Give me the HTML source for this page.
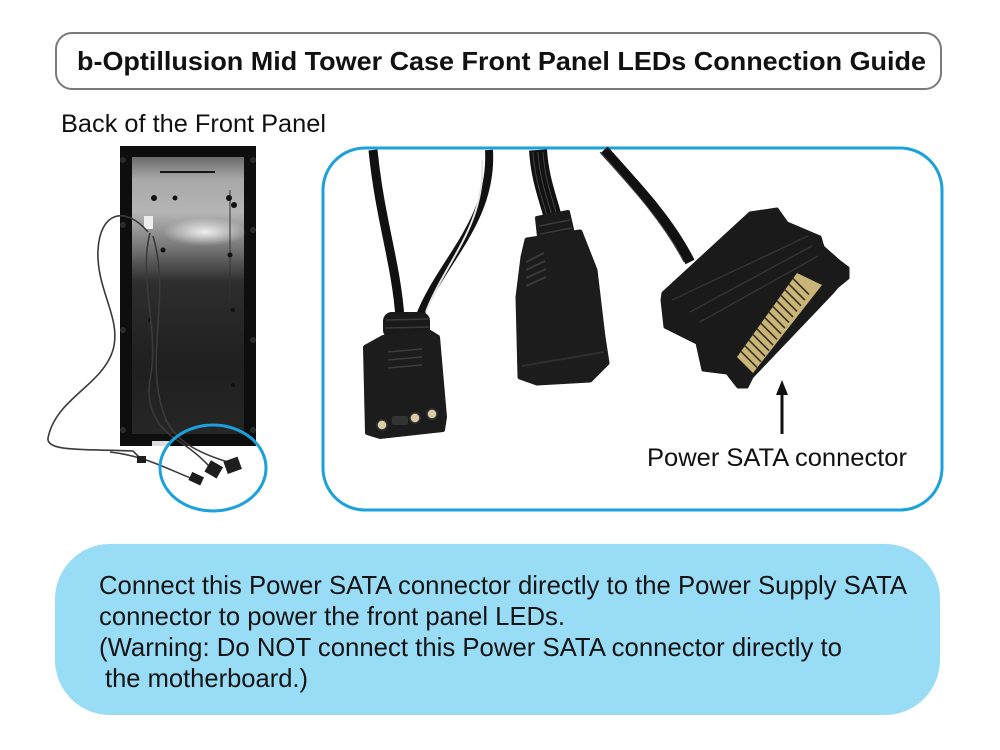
<!DOCTYPE html>
<html>
<head>
<meta charset="utf-8">
<style>
  html,body{margin:0;padding:0;background:#fff;}
  svg{display:block;}
  text{font-family:"Liberation Sans", Arial, sans-serif;}
</style>
</head>
<body>
<svg width="1000" height="750" viewBox="0 0 1000 750" xmlns="http://www.w3.org/2000/svg">
  <defs>
    <linearGradient id="pg" x1="0" y1="0" x2="0" y2="1">
      <stop offset="0" stop-color="#6a6a6a"/>
      <stop offset="0.08" stop-color="#a8a8a8"/>
      <stop offset="0.2" stop-color="#b5b5b5"/>
      <stop offset="0.32" stop-color="#7a7a7a"/>
      <stop offset="0.45" stop-color="#2e2e2e"/>
      <stop offset="0.75" stop-color="#1f1f1f"/>
      <stop offset="1" stop-color="#262626"/>
    </linearGradient>
    <radialGradient id="hl" cx="0.5" cy="0.5" r="0.5">
      <stop offset="0" stop-color="#ffffff" stop-opacity="0.85"/>
      <stop offset="1" stop-color="#ffffff" stop-opacity="0"/>
    </radialGradient>
  </defs>
  <rect width="1000" height="750" fill="#fff"/>

  <!-- Title -->
  <rect x="56" y="33" width="885" height="56" rx="16" ry="16" fill="#fff" stroke="#7a7a7a" stroke-width="2"/>
  <text x="77" y="70" font-size="26" font-weight="bold" fill="#111" textLength="849" lengthAdjust="spacingAndGlyphs">b-Optillusion Mid Tower Case Front Panel LEDs Connection Guide</text>

  <!-- Back of the Front Panel label -->
  <text x="61" y="132" font-size="25" fill="#111" textLength="265" lengthAdjust="spacingAndGlyphs">Back of the Front Panel</text>

  <!-- Front panel -->
  <rect x="120" y="146" width="136" height="300" fill="#0e0e0e"/>
  <rect x="132" y="157" width="112" height="277" fill="url(#pg)"/>
  <ellipse cx="205" cy="232" rx="42" ry="14" fill="url(#hl)"/>
  <line x1="160" y1="172" x2="215" y2="172" stroke="#151515" stroke-width="2"/>
  <rect x="144" y="216" width="9" height="13" fill="#eee"/>
  <line x1="230" y1="190" x2="230" y2="300" stroke="#333" stroke-width="1"/>
  <g fill="#111">
    <circle cx="154" cy="198" r="3"/>
    <circle cx="175" cy="198" r="2.5"/>
    <circle cx="229" cy="198" r="3"/>
    <circle cx="234" cy="205" r="3"/>
    <circle cx="163" cy="250" r="2.5"/>
    <circle cx="230" cy="255" r="2.5"/>
    <circle cx="233" cy="310" r="2"/>
    <circle cx="150" cy="320" r="2"/>
    <circle cx="233" cy="385" r="2"/>
  </g>
  <g fill="#2a2a2a">
    <circle cx="123" cy="160" r="3"/><circle cx="253" cy="160" r="3"/>
    <circle cx="123" cy="225" r="3"/><circle cx="253" cy="230" r="3"/>
    <circle cx="123" cy="330" r="3"/><circle cx="253" cy="340" r="3"/>
    <circle cx="123" cy="430" r="3"/><circle cx="253" cy="430" r="3"/>
  </g>
  <rect x="152" y="441" width="18" height="5" fill="#ddd"/>

  <!-- wires -->
  <g fill="none" stroke="#3a3a3a" stroke-width="1.6">
    <path d="M148,232 C125,205 100,212 98,250 C96,290 122,318 113,350 C102,386 56,398 48,438 C46,452 85,449 133,451 L140,458"/>
    <path d="M150,233 C138,280 160,330 150,380 C145,410 160,430 180,442 C198,454 204,461 211,468"/>
    <path d="M153,236 C172,300 142,360 166,420 C176,440 195,452 228,462"/>
    <path d="M110,452 C145,456 165,468 193,479"/>
  </g>
  <g fill="#1e1e1e">
    <rect x="137" y="456" width="9" height="7"/>
    <rect x="190" y="474" width="13" height="9" transform="rotate(25 196 478)"/>
    <rect x="207" y="463" width="14" height="13" transform="rotate(30 214 469)"/>
    <rect x="225" y="459" width="15" height="13" transform="rotate(-20 232 465)"/>
  </g>
  <ellipse cx="213" cy="468" rx="53" ry="43" fill="none" stroke="#1ba1db" stroke-width="3"/>

  <!-- Big photo box -->
  <rect x="323" y="148" width="619" height="362" rx="42" ry="42" fill="none" stroke="#1ba1db" stroke-width="3"/>

  <!-- Connector 1 (3-pin) -->
  <path d="M373,150 C380,220 396,262 400,318" fill="none" stroke="#111" stroke-width="9"/>
  <path d="M489,150 C493,222 440,262 419,318" fill="none" stroke="#111" stroke-width="8"/>
  <path d="M482,160 C486,225 445,262 426,312" fill="none" stroke="#e6e6e6" stroke-width="2"/>
  <rect x="383" y="312" width="47" height="27" rx="9" fill="#1a1a1a"/>
  <g stroke="#3a3a3a" stroke-width="1.5">
    <line x1="386" y1="320" x2="428" y2="319"/>
    <line x1="385" y1="328" x2="429" y2="327"/>
  </g>
  <path d="M383,337 L430,332 L438,337 L445,417 L443,430 L380,437 L367,433 L365,347 Z" fill="#1c1c1c" stroke="#1c1c1c" stroke-width="4" stroke-linejoin="round"/>
  <g stroke="#3c3c3c" stroke-width="1.5">
    <line x1="388" y1="352" x2="422" y2="349"/>
    <line x1="388" y1="360" x2="422" y2="357"/>
    <line x1="388" y1="368" x2="422" y2="365"/>
  </g>
  <rect x="392" y="416" width="16" height="9" rx="2" fill="#333"/>
  <g fill="#d9cca6" stroke="#333" stroke-width="1.5">
    <circle cx="382" cy="425" r="5"/>
    <circle cx="415" cy="418" r="5"/>
    <circle cx="432" cy="414" r="5"/>
  </g>

  <!-- Connector 2 -->
  <path d="M538,150 C540,180 548,198 553,218" fill="none" stroke="#111" stroke-width="18"/>
  <g stroke="#444" stroke-width="1">
    <path d="M533,152 C535,182 543,200 547,216" fill="none"/>
    <path d="M538,152 C540,182 548,200 552,216" fill="none"/>
    <path d="M543,152 C545,182 553,200 557,216" fill="none"/>
  </g>
  <path d="M537,218 L568,212 L574,238 L540,246 Z" fill="#1a1a1a" stroke="#1a1a1a" stroke-width="4" stroke-linejoin="round"/>
  <g stroke="#3a3a3a" stroke-width="1.5">
    <line x1="539" y1="226" x2="570" y2="220"/>
    <line x1="540" y1="234" x2="572" y2="228"/>
  </g>
  <path d="M527,240 L580,232 L595,270 L603,337 L607,363 L590,380 L537,383 L520,377 L518,297 L523,257 Z" fill="#1c1c1c" stroke="#1c1c1c" stroke-width="5" stroke-linejoin="round"/>
  <g stroke="#3a3a3a" stroke-width="2">
    <line x1="526" y1="262" x2="544" y2="253"/>
    <line x1="526" y1="270" x2="545" y2="261"/>
    <line x1="526" y1="278" x2="546" y2="269"/>
    <line x1="526" y1="286" x2="546" y2="277"/>
  </g>
  <path d="M522,366 L604,352" stroke="#2e2e2e" stroke-width="2"/>

  <!-- SATA connector -->
  <path d="M604,150 C640,190 670,222 690,262" fill="none" stroke="#111" stroke-width="10"/>
  <path d="M600,152 C636,192 664,224 684,262" fill="none" stroke="#444" stroke-width="1"/>
  <path d="M750,213 L777,209 L787,223 L820,237 L823,247 L840,262 L848,268 L848,278 L837,287 L832,293 L752,377 L747,387 L738,387 L727,373 L703,370 L697,343 L665,327 L662,300 L663,293 Z" fill="#1a1a1a" stroke="#1a1a1a" stroke-width="3" stroke-linejoin="round"/>
  <g stroke="#333" stroke-width="1.5" fill="none">
    <line x1="672" y1="300" x2="808" y2="236"/>
    <line x1="700" y1="322" x2="818" y2="256"/>
    <line x1="690" y1="312" x2="812" y2="246"/>
  </g>
  <path d="M737,357 L797,273 L822,285 L753,373 Z" fill="#c9b577"/>
  <path d="M741,351.4 l16,16 M745,345.8 l16,16 M749,340.2 l16,16 M753,334.6 l16,16 M757,329 l16,16 M761,323.4 l16,16 M765,317.8 l16,16 M769,312.2 l16,16 M773,306.6 l16,16 M777,301 l16,16 M781,295.4 l16,16 M785,289.8 l16,16 M789,284.2 l16,16 M793,278.6 l16,16" stroke="#3a3120" stroke-width="1.6" fill="none"/>

  <!-- Arrow -->
  <line x1="782" y1="392" x2="782" y2="434" stroke="#111" stroke-width="3"/>
  <polygon points="782,380 776,395 788,395" fill="#111"/>
  <text x="647" y="466" font-size="25" fill="#111" textLength="260" lengthAdjust="spacingAndGlyphs">Power SATA connector</text>

  <!-- Bottom info box -->
  <rect x="55" y="544" width="885" height="171" rx="55" ry="55" fill="#99dcf6"/>
  <g font-size="26" fill="#151515">
    <text x="99" y="594" textLength="808" lengthAdjust="spacingAndGlyphs">Connect this Power SATA connector directly to the Power Supply SATA</text>
    <text x="99" y="625" textLength="466" lengthAdjust="spacingAndGlyphs">connector to power the front panel LEDs.</text>
    <text x="99" y="656" textLength="743" lengthAdjust="spacingAndGlyphs">(Warning: Do NOT connect this Power SATA connector directly to</text>
    <text x="105" y="687" textLength="203" lengthAdjust="spacingAndGlyphs">the motherboard.)</text>
  </g>
</svg>
</body>
</html>
